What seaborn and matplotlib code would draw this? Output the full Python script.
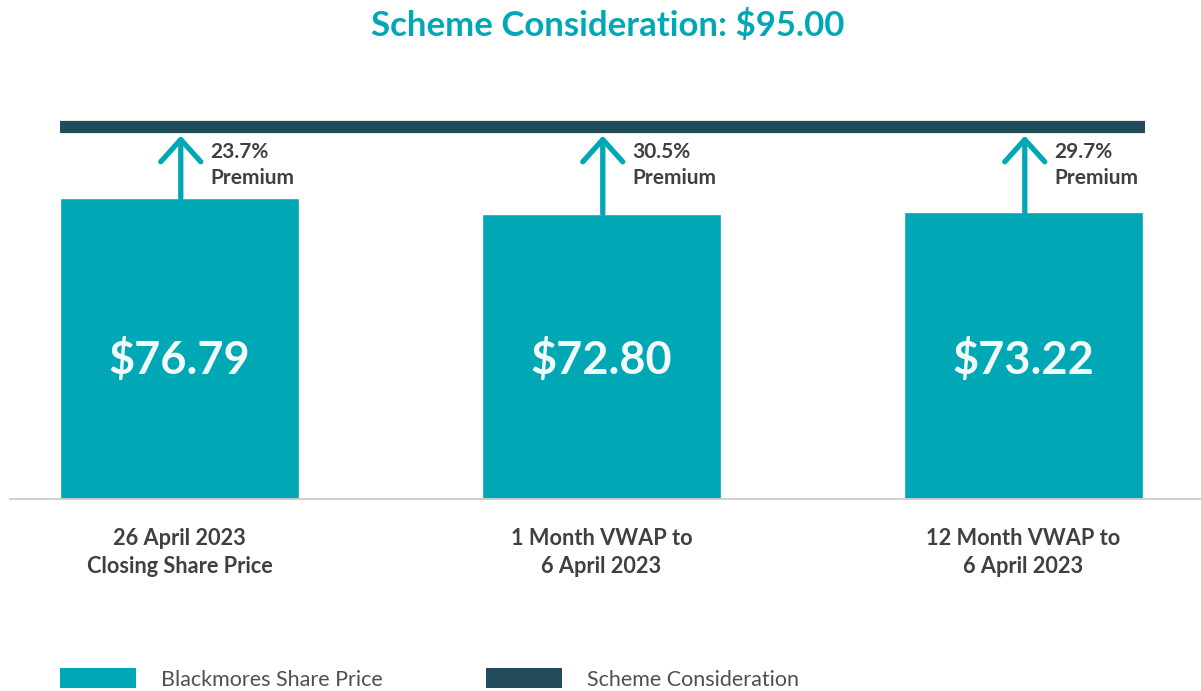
import matplotlib
matplotlib.use("Agg")
import matplotlib.pyplot as plt
from matplotlib.patches import Patch
import seaborn as sns
import pandas as pd

# chart data
categories = ["26 April 2023\nClosing Share Price", "1 Month VWAP to\n6 April 2023", "12 Month VWAP to\n6 April 2023"]
share_price = [76.79, 72.80, 73.22]
premium_pct = [23.7, 30.5, 29.7]
scheme_consideration = 95.00
legend_labels = ["Blackmores Share Price", "Scheme Consideration"]

TEAL = "#00A8B5"
NAVY = "#224C5C"
TEXT = "#404040"

sns.set_style("white")
plt.rcParams["font.family"] = ["Lato", "DejaVu Sans"]

W, H = 1201, 691
fig = plt.figure(figsize=(W / 100, H / 100), dpi=100)
# axes placed in pixel terms: baseline at y=499, left edge at x=10
ax = fig.add_axes([10 / W, 1 - 499 / H, 1 - 10 / W, 399 / H])

df = pd.DataFrame({"category": categories, "price": share_price})
bar_w = 239 / 422
sns.barplot(data=df, x="category", y="price", color=TEAL, width=bar_w,
            saturation=1, ax=ax, zorder=2)

ax.set_xlim(-(179.5 - 10) / 422, 2 + (1201 - 1023.5) / 422)
ax.set_ylim(0, 399 / 3.92)

# scheme consideration line
ax.hlines(scheme_consideration, -bar_w / 2, 2 + bar_w / 2 + 0.005, color=NAVY,
          lw=8.8, capstyle="butt", zorder=3)

for i, (v, p) in enumerate(zip(share_price, premium_pct)):
    ax.annotate("", xy=(i + 0.003, scheme_consideration - 2.3), xytext=(i + 0.003, v),
                arrowprops=dict(arrowstyle="->,head_length=0.4,head_width=0.36",
                                mutation_scale=40, lw=3.8, color=TEAL,
                                shrinkA=0, shrinkB=0, capstyle="round",
                                joinstyle="round"))
    ax.text(i + 0.074, 85.2, f"{p:.1f}%\nPremium", ha="left", va="center",
            fontsize=15, color=TEXT, linespacing=1.4, fontweight="bold")
    ax.text(i, 35.5, f"${v:.2f}", ha="center", va="center", fontsize=32.5,
            fontweight="bold", color="#F2FAFA")

# axes styling
for s in ["top", "right", "left"]:
    ax.spines[s].set_visible(False)
ax.spines["bottom"].set_color("#CCCCCC")
ax.spines["bottom"].set_linewidth(1.3)
ax.set_yticks([])
ax.set_xlabel("")
ax.set_ylabel("")
ax.tick_params(axis="x", length=0, pad=21)
for lbl in ax.get_xticklabels():
    lbl.set_fontsize(15.7)
    lbl.set_fontweight("bold")
    lbl.set_color(TEXT)
    lbl.set_linespacing(1.4)

fig.text(607.5 / W, 1 - 25 / H, f"Scheme Consideration: ${scheme_consideration:.2f}",
         ha="center", va="center", fontsize=25, fontweight="bold", color=TEAL)

handles = [Patch(facecolor=TEAL, edgecolor="none"), Patch(facecolor=NAVY, edgecolor="none")]
fig.legend(handles, legend_labels, loc="center left",
           bbox_to_anchor=(60 / W, 1 - 679 / H), ncol=2, frameon=False,
           handlelength=3.53, handleheight=1.0, handletextpad=1.15,
           columnspacing=4.8, borderpad=0, borderaxespad=0,
           labelcolor="#505050", prop={"weight": "normal", "size": 15.5})

fig.savefig("out.png", dpi=100)
